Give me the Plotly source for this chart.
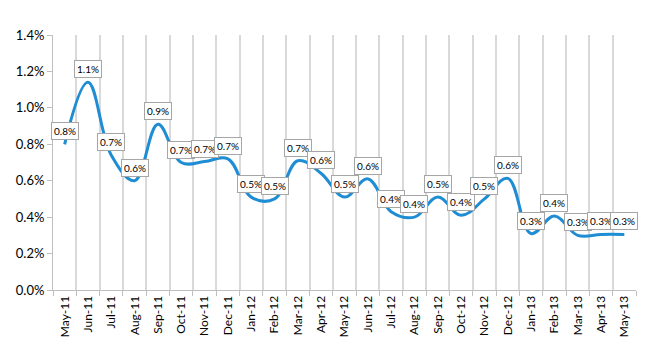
import plotly.graph_objects as go

months = ["May-11", "Jun-11", "Jul-11", "Aug-11", "Sep-11", "Oct-11", "Nov-11", "Dec-11",
          "Jan-12", "Feb-12", "Mar-12", "Apr-12", "May-12", "Jun-12", "Jul-12", "Aug-12",
          "Sep-12", "Oct-12", "Nov-12", "Dec-12", "Jan-13", "Feb-13", "Mar-13", "Apr-13", "May-13"]
rate_pct = [0.80, 1.14, 0.74, 0.60, 0.91, 0.70, 0.705, 0.72,
            0.51, 0.50, 0.71, 0.64, 0.51, 0.61, 0.43, 0.40,
            0.51, 0.41, 0.50, 0.613, 0.31, 0.406, 0.30, 0.305, 0.305]
rate = [v / 100 for v in rate_pct]

y_ticks = [0, 0.002, 0.004, 0.006, 0.008, 0.010, 0.012, 0.014]

fig = go.Figure()
fig.add_trace(go.Scatter(
    x=months, y=rate, mode="lines",
    line=dict(color="#1f8dd3", width=3, shape="spline", smoothing=1.1),
    hoverinfo="skip", showlegend=False,
))

for m, v in zip(months, rate):
    fig.add_annotation(
        x=m, y=v, text=f"{v*100:.1f}%", showarrow=False,
        yanchor="middle", yshift=13,
        bgcolor="white", bordercolor="#a6a6a6", borderwidth=1, borderpad=2,
        font=dict(family="Lato, Liberation Sans, sans-serif", size=10, color="#000000"),
    )

fig.update_layout(
    width=650, height=350,
    margin=dict(l=53, r=14, t=35, b=60),
    paper_bgcolor="white", plot_bgcolor="white",
    font=dict(family="Lato, Liberation Sans, sans-serif", color="#000000"),
)
fig.update_xaxes(
    type="category", categoryorder="array", categoryarray=months,
    range=[-0.5, len(months) - 0.5],
    tickson="boundaries", ticks="outside", ticklen=5, tickcolor="#bfbfbf", tickwidth=1,
    showgrid=True, gridcolor="#d9d9d9", gridwidth=2,
    showline=True, linecolor="#bfbfbf", linewidth=1,
    tickangle=-90, tickfont=dict(size=12),
)
fig.update_yaxes(
    range=[0, 0.014], tickvals=y_ticks, tickformat=".1%",
    showgrid=False, zeroline=False,
    showline=True, linecolor="#bfbfbf", linewidth=1,
    ticks="outside", ticklen=5, tickcolor="#bfbfbf",
    tickfont=dict(size=13),
)

fig.write_html("out.html")
